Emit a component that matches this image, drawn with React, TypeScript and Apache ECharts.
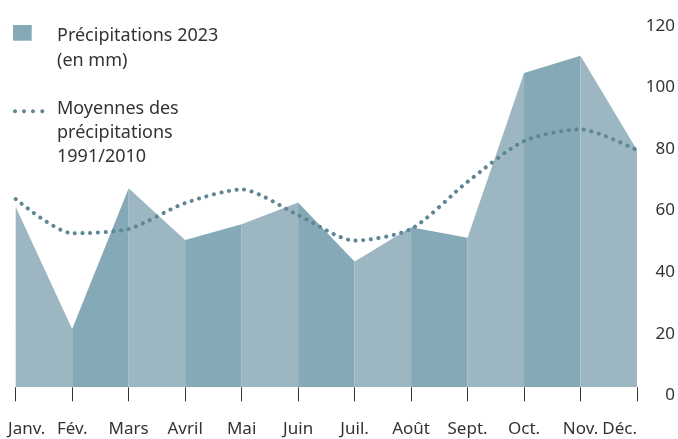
import React, { useEffect, useRef } from "react";
import * as echarts from "echarts";

const months = ["Janv.", "Fév.", "Mars", "Avril", "Mai", "Juin", "Juil.", "Août", "Sept.", "Oct.", "Nov.", "Déc."];
const precip2023 = [58.5, 18.9, 64.6, 47.8, 52.9, 60, 40.8, 51.9, 48.5, 102, 107.6, 77];
const average19912010 = [61.1, 50, 51.4, 59.8, 64.2, 55.9, 47.6, 51.4, 66.7, 79.9, 83.7, 77];
const yTicks = { min: 0, max: 120, interval: 20 };

const LIGHT = "#9cb7c2";
const DARK = "#85a9b7";
const DOT = "#5e8694";
const TEXT = "#333333";
const FONT = "'Noto Sans', sans-serif";

export default function App() {
  const ref = useRef<HTMLDivElement>(null);
  useEffect(() => {
    if (!ref.current) return;
    const chart = echarts.init(ref.current, undefined, { renderer: "svg" });
    const segments = precip2023.slice(0, -1).map((_, i) => ({
      type: "line",
      data: precip2023.map((v, j) => (j === i || j === i + 1 ? v : null)),
      showSymbol: false,
      symbol: "none",
      lineStyle: { width: 0 },
      areaStyle: { color: i % 2 === 0 ? LIGHT : DARK, opacity: 1 },
      itemStyle: { color: i % 2 === 0 ? LIGHT : DARK },
      connectNulls: false,
      silent: true,
      z: 1,
    }));
    const option: any = {
      animation: false,
      grid: { left: 15.7, right: 39.2, top: 17.5, bottom: 51.7, containLabel: false },
      xAxis: {
        type: "category",
        data: months,
        boundaryGap: false,
        offset: 6.7,
        axisLine: { show: false },
        axisTick: { show: true, length: 14, lineStyle: { color: TEXT, width: 1 } },
        axisLabel: {
          color: TEXT,
          fontFamily: FONT,
          fontSize: 17,
          margin: 25,
          interval: 0,
          alignMaxLabel: "right",
          formatter: (v: string, i: number) => (i === 0 ? `{first|${v}}` : v),
          rich: {
            first: { padding: [0, 0, 0, 22], color: TEXT, fontFamily: FONT, fontSize: 17 },
          },
        },
        splitLine: { show: false },
      },
      yAxis: {
        type: "value",
        position: "right",
        min: yTicks.min,
        max: yTicks.max,
        interval: yTicks.interval,
        axisLine: { show: false },
        axisTick: { show: false },
        splitLine: { show: false },
        axisLabel: {
          color: TEXT,
          fontFamily: FONT,
          fontSize: 17,
          margin: 38,
          align: "right",
          verticalAlign: "top",
          lineHeight: 13,
        },
      },
      graphic: [
        { type: "rect", shape: { x: 13, y: 25, width: 18.7, height: 15.7 }, style: { fill: DARK } },
        {
          type: "text",
          x: 57,
          y: 21.5,
          style: { text: "Précipitations 2023\n(en mm)", fill: TEXT, font: `18px ${FONT}`, lineHeight: 25 },
        },
        { type: "circle", shape: { cx: 15, cy: 111.3, r: 2 }, style: { fill: DOT } },
        { type: "circle", shape: { cx: 24, cy: 111.3, r: 2 }, style: { fill: DOT } },
        { type: "circle", shape: { cx: 33, cy: 111.3, r: 2 }, style: { fill: DOT } },
        { type: "circle", shape: { cx: 42.3, cy: 111.3, r: 2 }, style: { fill: DOT } },
        {
          type: "text",
          x: 57,
          y: 94.5,
          style: {
            text: "Moyennes des\nprécipitations\n1991/2010",
            fill: TEXT,
            font: `18px ${FONT}`,
            lineHeight: 24.3,
          },
        },
      ],
      series: [
        ...segments,
        {
          type: "line",
          name: "Moyennes des précipitations 1991/2010",
          data: average19912010,
          smooth: 0.25,
          showSymbol: false,
          symbol: "none",
          lineStyle: { color: DOT, width: 4, type: [0.1, 7.6], cap: "round" },
          silent: true,
          z: 5,
        },
      ],
    };
    chart.setOption(option);
    return () => chart.dispose();
  }, []);
  return (
    <div
      ref={ref}
      style={{ position: "fixed", left: 0, top: 0, width: 678, height: 439 }}
    />
  );
}
